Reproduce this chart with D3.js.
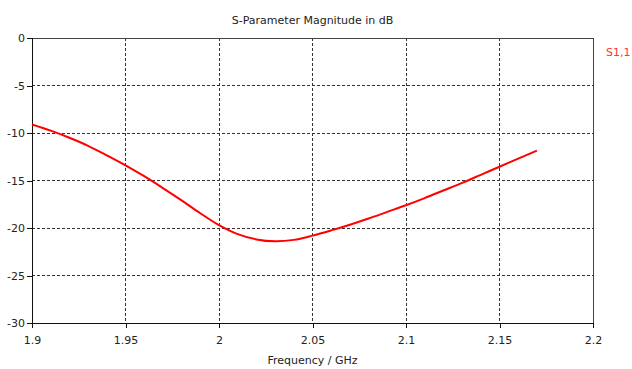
<!DOCTYPE html>
<html>
<head>
<meta charset="utf-8">
<script src="https://cdn.jsdelivr.net/npm/d3@7"></script>
<style>
  body { margin: 0; background: #fff; }
  text { font-family: "DejaVu Sans", sans-serif; font-size: 11px; fill: #222; }
</style>
</head>
<body>
<div id="chart"></div>
<script>
// Frequency samples (GHz) and S1,1 magnitude (dB)
const freq = [1.90, 1.91, 1.92, 1.93, 1.94, 1.95, 1.96, 1.97, 1.98, 1.99,
              2.00, 2.01, 2.02, 2.03, 2.04, 2.05, 2.06, 2.07, 2.08, 2.09,
              2.10, 2.11, 2.12, 2.13, 2.14, 2.15, 2.16, 2.17];
const s11 = [-9.1, -9.75, -10.5, -11.35, -12.35, -13.4, -14.55, -15.8, -17.1, -18.45,
             -19.7, -20.65, -21.2, -21.4, -21.25, -20.8, -20.25, -19.65, -19.0, -18.3,
             -17.6, -16.85, -16.05, -15.25, -14.4, -13.55, -12.7, -11.85];
const xTicks = [1.9, 1.95, 2, 2.05, 2.1, 2.15, 2.2];
const yTicks = [0, -5, -10, -15, -20, -25, -30];

const width = 632, height = 369;
const margin = { top: 38, right: 39, bottom: 46, left: 32 };

const svg = d3.select("#chart").append("svg")
    .attr("width", width)
    .attr("height", height);

const x = d3.scaleLinear().domain([1.9, 2.2]).range([margin.left, width - margin.right]);
const y = d3.scaleLinear().domain([-30, 0]).range([height - margin.bottom, margin.top]);

// Grid lines
const grid = svg.append("g").attr("shape-rendering", "crispEdges");
grid.selectAll(".vg")
    .data(xTicks.slice(1, -1))
    .enter().append("line")
    .attr("x1", d => x(d)).attr("x2", d => x(d))
    .attr("y1", y(0)).attr("y2", y(-30))
    .attr("stroke", "#333")
    .attr("stroke-dasharray", "3,2");
grid.selectAll(".hg")
    .data(yTicks.slice(1, -1))
    .enter().append("line")
    .attr("x1", x(1.9)).attr("x2", x(2.2))
    .attr("y1", d => y(d)).attr("y2", d => y(d))
    .attr("stroke", "#333")
    .attr("stroke-dasharray", "3,2");

// Frame (top & right)
svg.append("path")
    .attr("d", `M${x(1.9)},${y(0)}H${x(2.2)}V${y(-30)}`)
    .attr("fill", "none")
    .attr("stroke", "#444")
    .attr("shape-rendering", "crispEdges");

// Axes (plain hyphen for negatives, like the original)
const fmt = d => String(d);
const xAxis = svg.append("g")
    .attr("transform", `translate(0,${y(-30)})`)
    .call(d3.axisBottom(x).tickValues(xTicks).tickFormat(fmt).tickSize(5).tickPadding(8));
const yAxis = svg.append("g")
    .attr("transform", `translate(${x(1.9)},0)`)
    .call(d3.axisLeft(y).tickValues(yTicks).tickFormat(fmt).tickSize(5).tickPadding(2));
[xAxis, yAxis].forEach(a => {
    a.select(".domain").attr("stroke", "#111").attr("shape-rendering", "crispEdges");
    a.selectAll(".tick line").attr("stroke", "#111").attr("shape-rendering", "crispEdges");
    a.selectAll("text").style("font-family", "DejaVu Sans, sans-serif").style("font-size", "11px").attr("fill", "#333");
});

// Curve
const line = d3.line()
    .x((d, i) => x(freq[i]))
    .y(d => y(d))
    .curve(d3.curveCatmullRom);
svg.append("path")
    .datum(s11)
    .attr("d", line)
    .attr("fill", "none")
    .attr("stroke", "#ff0000")
    .attr("stroke-width", 2);

// Titles
svg.append("text")
    .attr("x", (x(1.9) + x(2.2)) / 2)
    .attr("y", 24)
    .attr("text-anchor", "middle")
    .text("S-Parameter Magnitude in dB");
svg.append("text")
    .attr("x", (x(1.9) + x(2.2)) / 2)
    .attr("y", 364)
    .attr("text-anchor", "middle")
    .text("Frequency / GHz");

// Legend
svg.append("text")
    .attr("x", 606)
    .attr("y", 56)
    .style("fill", "#ff3333")
    .text("S1,1");
</script>
</body>
</html>
